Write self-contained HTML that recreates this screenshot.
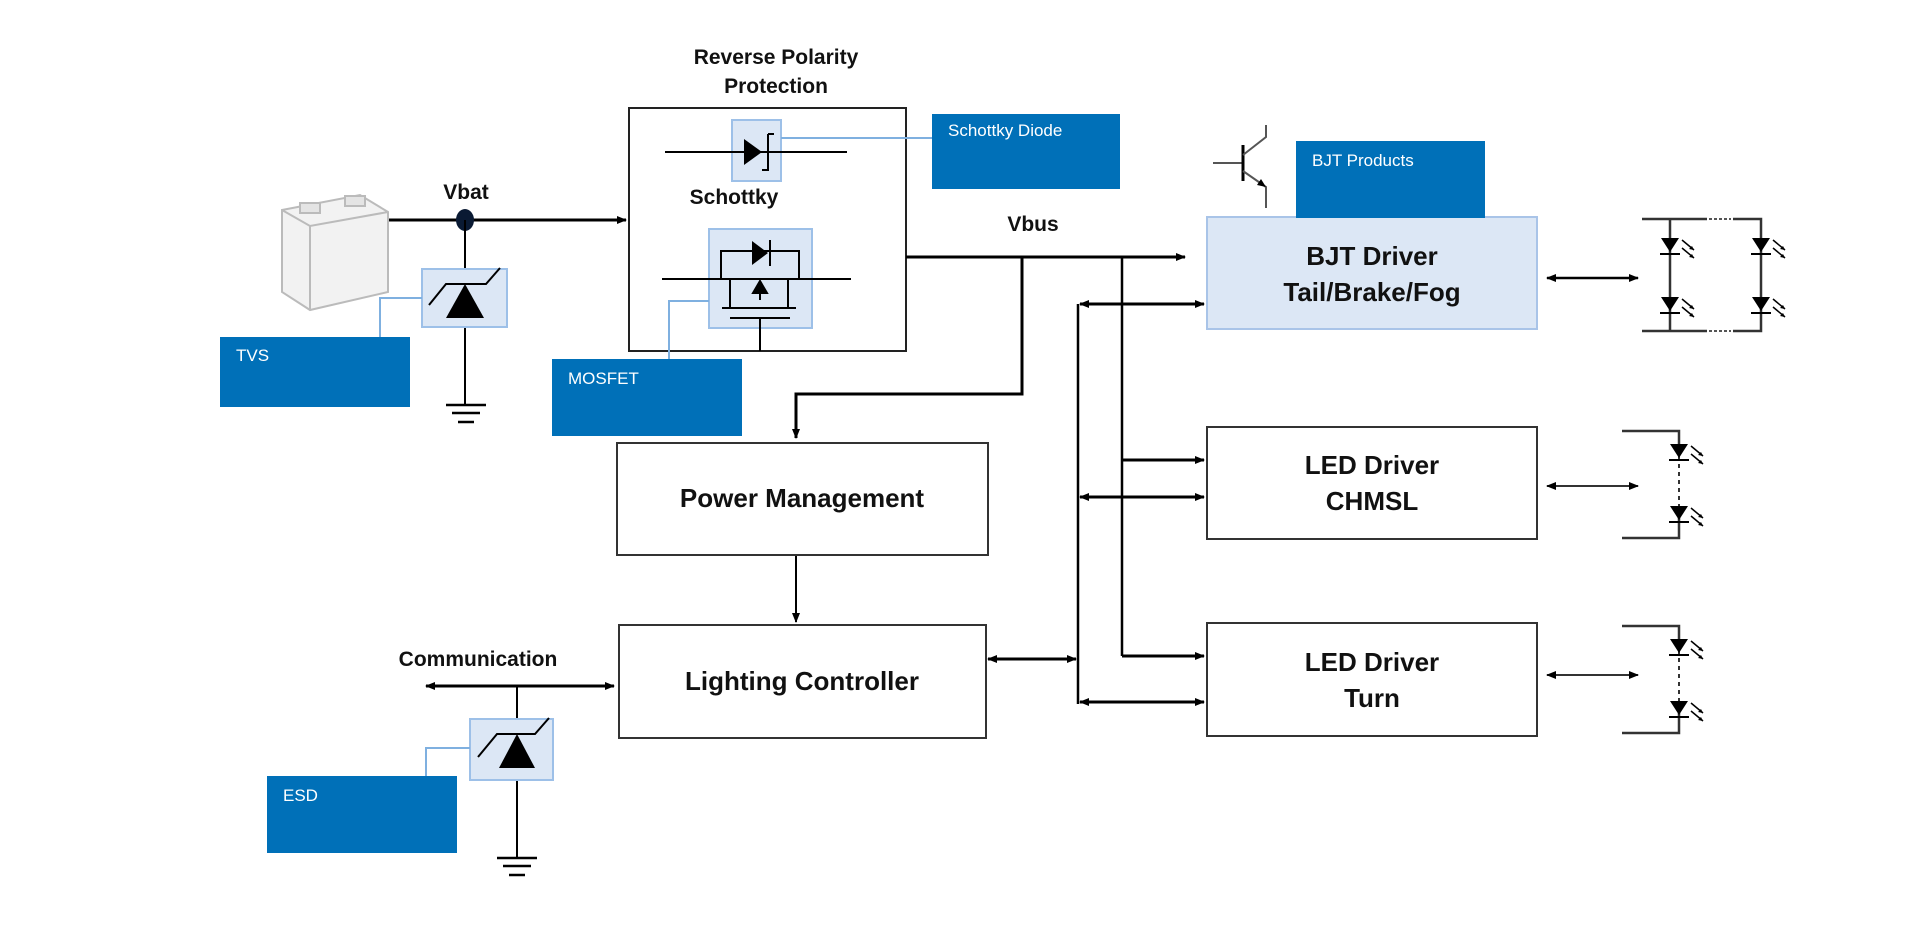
<!DOCTYPE html>
<html><head><meta charset="utf-8"><style>
html,body{margin:0;padding:0;background:#fff;width:1920px;height:928px;overflow:hidden}
svg{display:block}
</style></head><body>
<svg width="1920" height="928" viewBox="0 0 1920 928" xmlns="http://www.w3.org/2000/svg" font-family="Liberation Sans, sans-serif">
<defs>
<marker id="a" markerWidth="10" markerHeight="8" refX="9" refY="4" orient="auto" markerUnits="userSpaceOnUse"><path d="M0,0 L10,4 L0,8 z" fill="#000"/></marker>
<marker id="s" markerWidth="10" markerHeight="8" refX="1" refY="4" orient="auto" markerUnits="userSpaceOnUse"><path d="M10,0 L0,4 L10,8 z" fill="#000"/></marker>
<g id="led"><path d="M-9,-8 L9,-8 L0,6 z" fill="#000"/><line x1="-10" y1="8" x2="10" y2="8" stroke="#000" stroke-width="2"/><path d="M12,-6 L24,4 M12,2 L24,12" stroke="#000" stroke-width="1.5"/><path d="M24,4 l-5,-1 l3,-3 z M24,12 l-5,-1 l3,-3 z" fill="#000"/></g>
</defs>

<!-- titles -->
<g font-weight="bold" fill="#111" text-anchor="middle">
<text x="776" y="64" font-size="21">Reverse Polarity</text>
<text x="776" y="93" font-size="21">Protection</text>
<text x="734" y="204" font-size="21">Schottky</text>
<text x="466" y="199" font-size="21">Vbat</text>
<text x="1033" y="231" font-size="21">Vbus</text>
<text x="478" y="666" font-size="21">Communication</text>
</g>

<!-- battery -->
<g stroke="#bbb" fill="#f2f2f2" stroke-width="2">
<path d="M282,210 L360,195 L388,212 L388,292 L310,310 L282,292 z"/>
<path d="M282,210 L310,226 L388,212" fill="none"/>
<path d="M310,226 L310,310" fill="none"/>
<rect x="300" y="203" width="20" height="10" fill="#e4e4e4"/>
<rect x="345" y="196" width="20" height="10" fill="#e4e4e4"/>
</g>

<!-- Vbat line -->
<line x1="389" y1="220" x2="626" y2="220" stroke="#000" stroke-width="3" marker-end="url(#a)"/>
<ellipse cx="465" cy="220" rx="9" ry="11" fill="#0a1a33"/>
<line x1="465" y1="220" x2="465" y2="405" stroke="#000" stroke-width="2"/>
<rect x="422" y="269" width="85" height="58" fill="#dce7f5" stroke="#9dc0e8" stroke-width="2"/>
<path d="M446,318 L465,284 L484,318 z" fill="#000"/>
<path d="M429,305 L446,284 L486,284 L500,268" stroke="#000" stroke-width="2" fill="none"/>
<g stroke="#000" stroke-width="2.5"><line x1="446" y1="405" x2="486" y2="405"/><line x1="452" y1="413" x2="480" y2="413"/><line x1="458" y1="422" x2="474" y2="422"/></g>
<path d="M422,298 L380,298 L380,337" stroke="#7fb0e0" stroke-width="2" fill="none"/>
<rect x="220" y="337" width="190" height="70" fill="#0070b8"/>
<text x="236" y="361" font-size="17" fill="#fff">TVS</text>

<!-- RPP box -->
<rect x="629" y="108" width="277" height="243" fill="none" stroke="#222" stroke-width="2"/>
<rect x="732" y="120" width="49" height="61" fill="#dce7f5" stroke="#9dc0e8" stroke-width="2"/>
<line x1="665" y1="152" x2="847" y2="152" stroke="#000" stroke-width="2"/>
<path d="M744,139 L744,165 L762,152 z" fill="#000"/>
<path d="M768,134 L774,134 M768,134 L768,170 L762,170" stroke="#000" stroke-width="2" fill="none"/>
<line x1="781" y1="138" x2="932" y2="138" stroke="#7fb0e0" stroke-width="2"/>
<rect x="932" y="114" width="188" height="75" fill="#0070b8"/>
<text x="948" y="136" font-size="17" fill="#fff">Schottky Diode</text>

<rect x="709" y="229" width="103" height="99" fill="#dce7f5" stroke="#9dc0e8" stroke-width="2"/>
<line x1="662" y1="279" x2="851" y2="279" stroke="#000" stroke-width="2"/>
<path d="M721,279 L721,251 L799,251 L799,279" stroke="#000" stroke-width="2" fill="none"/>
<path d="M752,241 L752,265 L768,253 z" fill="#000"/><line x1="770" y1="240" x2="770" y2="266" stroke="#000" stroke-width="2"/>
<path d="M730,279 L730,308 M788,279 L788,308 M722,308 L796,308 M730,318 L790,318 M760,318 L760,351" stroke="#000" stroke-width="2" fill="none"/>
<path d="M760,283 L760,300 M753,293 L760,281 L767,293 z" stroke="#000" stroke-width="2" fill="#000"/>
<path d="M709,301 L669,301 L669,359" stroke="#7fb0e0" stroke-width="2" fill="none"/>
<rect x="552" y="359" width="190" height="77" fill="#0070b8"/>
<text x="568" y="384" font-size="17" fill="#fff">MOSFET</text>

<!-- Vbus wiring -->
<line x1="906" y1="257" x2="1185" y2="257" stroke="#000" stroke-width="3" marker-end="url(#a)"/>
<path d="M1022,257 L1022,394 L796,394 L796,438" stroke="#000" stroke-width="3" fill="none" marker-end="url(#a)"/>
<line x1="1122" y1="257" x2="1122" y2="656" stroke="#000" stroke-width="2.5"/>
<line x1="1122" y1="460" x2="1204" y2="460" stroke="#000" stroke-width="3" marker-end="url(#a)"/>
<line x1="1122" y1="656" x2="1204" y2="656" stroke="#000" stroke-width="3" marker-end="url(#a)"/>
<line x1="1078" y1="304" x2="1078" y2="704" stroke="#000" stroke-width="2.5"/>
<line x1="1080" y1="304" x2="1204" y2="304" stroke="#000" stroke-width="3" marker-start="url(#s)" marker-end="url(#a)"/>
<line x1="1080" y1="497" x2="1204" y2="497" stroke="#000" stroke-width="3" marker-start="url(#s)" marker-end="url(#a)"/>
<line x1="1080" y1="702" x2="1204" y2="702" stroke="#000" stroke-width="3" marker-start="url(#s)" marker-end="url(#a)"/>
<line x1="988" y1="659" x2="1076" y2="659" stroke="#000" stroke-width="3" marker-start="url(#s)" marker-end="url(#a)"/>
<line x1="796" y1="555" x2="796" y2="622" stroke="#000" stroke-width="2" marker-end="url(#a)"/>

<!-- boxes -->
<rect x="617" y="443" width="371" height="112" fill="#fff" stroke="#333" stroke-width="2"/>
<rect x="619" y="625" width="367" height="113" fill="#fff" stroke="#333" stroke-width="2"/>
<rect x="1207" y="217" width="330" height="112" fill="#dce7f5" stroke="#a9c4e8" stroke-width="2"/>
<rect x="1207" y="427" width="330" height="112" fill="#fff" stroke="#333" stroke-width="2"/>
<rect x="1207" y="623" width="330" height="113" fill="#fff" stroke="#333" stroke-width="2"/>
<g font-weight="bold" fill="#111" text-anchor="middle" font-size="26">
<text x="802" y="507">Power Management</text>
<text x="802" y="690">Lighting Controller</text>
<text x="1372" y="265">BJT Driver</text>
<text x="1372" y="301">Tail/Brake/Fog</text>
<text x="1372" y="474">LED Driver</text>
<text x="1372" y="510">CHMSL</text>
<text x="1372" y="671">LED Driver</text>
<text x="1372" y="707">Turn</text>
</g>

<!-- BJT products -->
<g stroke="#555" stroke-width="2" fill="none">
<line x1="1213" y1="163" x2="1243" y2="163"/>
<line x1="1243" y1="145" x2="1243" y2="181" stroke="#000" stroke-width="3"/>
<path d="M1243,155 L1266,137 L1266,125"/><path d="M1243,171 L1266,187 L1266,208"/>
</g>
<path d="M1266,187 l-9,-2 l4,-6 z" fill="#000"/>
<rect x="1296" y="141" width="189" height="77" fill="#0070b8"/>
<text x="1312" y="166" font-size="17" fill="#fff">BJT Products</text>

<!-- Communication / ESD -->
<line x1="426" y1="686" x2="614" y2="686" stroke="#000" stroke-width="3" marker-start="url(#s)" marker-end="url(#a)"/>
<line x1="517" y1="686" x2="517" y2="858" stroke="#000" stroke-width="2"/>
<rect x="470" y="719" width="83" height="61" fill="#dce7f5" stroke="#9dc0e8" stroke-width="2"/>
<path d="M499,768 L517,734 L535,768 z" fill="#000"/>
<path d="M478,757 L497,734 L535,734 L549,718" stroke="#000" stroke-width="2" fill="none"/>
<g stroke="#000" stroke-width="2.5"><line x1="497" y1="858" x2="537" y2="858"/><line x1="503" y1="866" x2="531" y2="866"/><line x1="509" y1="875" x2="525" y2="875"/></g>
<path d="M470,748 L426,748 L426,776" stroke="#7fb0e0" stroke-width="2" fill="none"/>
<rect x="267" y="776" width="190" height="77" fill="#0070b8"/>
<text x="283" y="801" font-size="17" fill="#fff">ESD</text>

<!-- LED side arrows -->
<line x1="1547" y1="278" x2="1638" y2="278" stroke="#000" stroke-width="2.5" marker-start="url(#s)" marker-end="url(#a)"/>
<line x1="1547" y1="486" x2="1638" y2="486" stroke="#333" stroke-width="2" marker-start="url(#s)" marker-end="url(#a)"/>
<line x1="1547" y1="675" x2="1638" y2="675" stroke="#333" stroke-width="2" marker-start="url(#s)" marker-end="url(#a)"/>

<!-- LED array BJT -->
<g stroke="#333" stroke-width="2.5" fill="none">
<path d="M1642,219 L1707,219 M1733,219 L1761,219 L1761,331 L1733,331 M1707,331 L1642,331"/>
<line x1="1670" y1="219" x2="1670" y2="331"/>
</g>
<path d="M1709,219 L1731,219 M1709,331 L1731,331" stroke="#555" stroke-width="2" stroke-dasharray="3,2"/>
<use href="#led" x="1670" y="246"/><use href="#led" x="1761" y="246"/>
<use href="#led" x="1670" y="305"/><use href="#led" x="1761" y="305"/>

<!-- LED CHMSL -->
<path d="M1622,431 L1679,431 L1679,456 M1679,510 L1679,538 L1622,538" stroke="#333" stroke-width="2.5" fill="none"/>
<line x1="1679" y1="456" x2="1679" y2="510" stroke="#333" stroke-width="2" stroke-dasharray="4,4"/>
<use href="#led" x="1679" y="452"/><use href="#led" x="1679" y="514"/>

<!-- LED Turn -->
<path d="M1622,626 L1679,626 L1679,650 M1679,705 L1679,733 L1622,733" stroke="#333" stroke-width="2.5" fill="none"/>
<line x1="1679" y1="650" x2="1679" y2="705" stroke="#333" stroke-width="2" stroke-dasharray="4,4"/>
<use href="#led" x="1679" y="647"/><use href="#led" x="1679" y="709"/>
</svg>
</body></html>
